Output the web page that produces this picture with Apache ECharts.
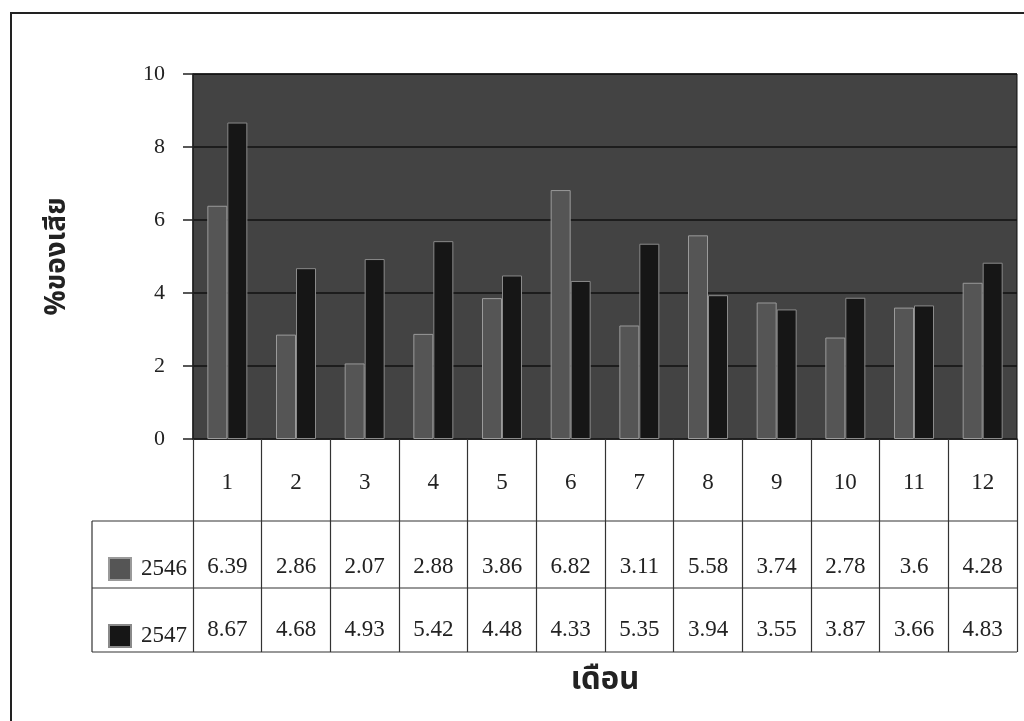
<!DOCTYPE html>
<html>
<head>
<meta charset="utf-8">
<title>%ของเสีย รายเดือน</title>
<script src="https://cdn.jsdelivr.net/npm/echarts@6/dist/echarts.min.js"></script>
<style>
  html, body { margin: 0; padding: 0; background: #fff; }
  #chart { width: 1024px; height: 721px; }
</style>
</head>
<body>
<div id="chart"></div>
<script>
const months = ['1', '2', '3', '4', '5', '6', '7', '8', '9', '10', '11', '12'];
const seriesNames = ['2546', '2547'];
const values2546 = [6.39, 2.86, 2.07, 2.88, 3.86, 6.82, 3.11, 5.58, 3.74, 2.78, 3.6, 4.28];
const values2547 = [8.67, 4.68, 4.93, 5.42, 4.48, 4.33, 5.35, 3.94, 3.55, 3.87, 3.66, 4.83];
const yMin = 0;
const yMax = 10;
const yStep = 2;

const serif = '"Liberation Serif", "DejaVu Serif", serif';
const thai = '"Noto Sans Thai", "Noto Sans", "DejaVu Sans", sans-serif';

// plot box and data table rows
const box = { left: 193, right: 1017, top: 74, bottom: 439 };
const rows = [521, 588, 652];
const legendLeft = 92;

const chart = echarts.init(document.getElementById('chart'));

const option = {
  backgroundColor: '#fff',
  animation: false,
  grid: {
    left: box.left,
    right: 1024 - box.right,
    top: box.top,
    bottom: 721 - box.bottom,
    show: true,
    backgroundColor: '#434343',
    borderColor: '#111',
    borderWidth: 1
  },
  legend: {
    orient: 'vertical',
    left: 103,
    top: 552,
    itemWidth: 22,
    itemHeight: 22,
    itemGap: 43,
    icon: 'rect',
    data: seriesNames,
    textStyle: {
      fontFamily: serif,
      fontSize: 23,
      color: '#222',
      padding: [6, 0, 0, 5]
    }
  },
  xAxis: {
    type: 'category',
    data: months,
    name: 'เดือน',
    nameLocation: 'middle',
    nameGap: 228,
    nameTextStyle: {
      fontFamily: thai,
      fontSize: 31,
      fontWeight: 'bold',
      color: '#222'
    },
    axisLine: { lineStyle: { color: '#222', width: 1.5 } },
    axisTick: {
      show: true,
      length: rows[2] - box.bottom,
      lineStyle: { color: '#333', width: 1.2 }
    },
    axisLabel: {
      interval: 0,
      margin: 14,
      formatter: (value, i) => `{m|${value}}\n{a|${values2546[i]}}\n{b|${values2547[i]}}`,
      rich: {
        m: { fontFamily: serif, fontSize: 23, color: '#222', lineHeight: 60 },
        a: { fontFamily: serif, fontSize: 23, color: '#222', lineHeight: 108 },
        b: { fontFamily: serif, fontSize: 23, color: '#222', lineHeight: 18 }
      }
    }
  },
  yAxis: {
    type: 'value',
    min: yMin,
    max: yMax,
    interval: yStep,
    name: '%ของเสีย',
    nameLocation: 'middle',
    nameGap: 120,
    nameRotate: 90,
    nameTextStyle: {
      fontFamily: thai,
      fontSize: 28,
      fontWeight: 'bold',
      color: '#222'
    },
    axisLine: { show: true, lineStyle: { color: '#222', width: 1.5 } },
    axisTick: { show: true, length: 10, lineStyle: { color: '#222', width: 1.5 } },
    axisLabel: {
      margin: 28,
      fontFamily: serif,
      fontSize: 22,
      color: '#222'
    },
    splitLine: { lineStyle: { color: '#111', width: 1.5 } }
  },
  series: [
    {
      name: seriesNames[0],
      type: 'bar',
      data: values2546,
      barWidth: 20,
      barGap: '0%',
      itemStyle: { color: '#555', borderColor: '#9a9a9a', borderWidth: 1 }
    },
    {
      name: seriesNames[1],
      type: 'bar',
      data: values2547,
      barWidth: 20,
      itemStyle: { color: '#161616', borderColor: '#8a8a8a', borderWidth: 1 }
    }
  ],
  graphic: [
    // outer frame (left and top edges visible)
    {
      type: 'polyline',
      shape: { points: [[11, 721], [11, 13], [1024, 13]] },
      style: { stroke: '#222', lineWidth: 2, fill: null }
    },
    // data table horizontal rules and legend cell edge
    ...rows.map(y => ({
      type: 'line',
      shape: { x1: legendLeft, y1: y, x2: box.right, y2: y },
      style: { stroke: '#333', lineWidth: 1.2 }
    })),
    {
      type: 'line',
      shape: { x1: legendLeft, y1: rows[0], x2: legendLeft, y2: rows[2] },
      style: { stroke: '#333', lineWidth: 1.2 }
    }
  ]
};

chart.setOption(option);
</script>
</body>
</html>
